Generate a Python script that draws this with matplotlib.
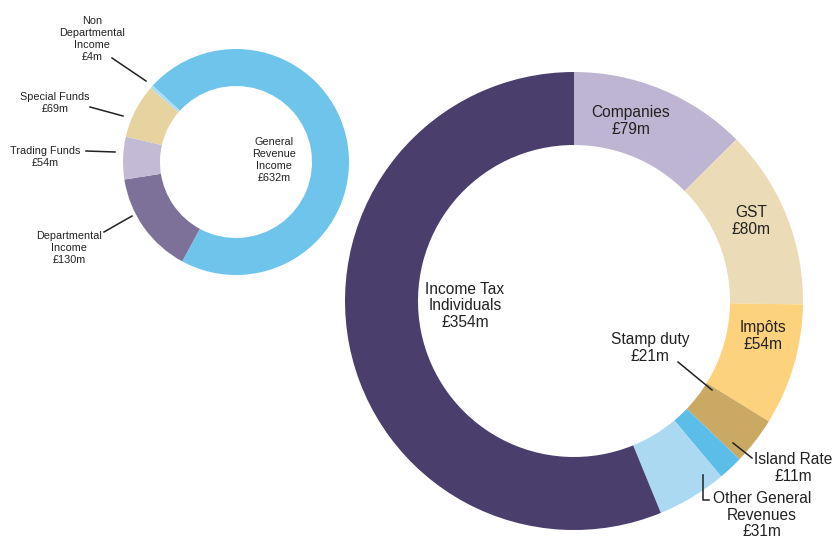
import matplotlib.pyplot as plt

plt.rcParams['font.family'] = ['Liberation Sans', 'DejaVu Sans']

# Overall income split (small ring)
income_labels = ['General Revenue Income', 'Departmental Income', 'Trading Funds',
                 'Special Funds', 'Non Departmental Income']
income_values = [632, 130, 54, 69, 4]
income_colors = ['#6fc4eb', '#7d7199', '#c3bbd5', '#e6d39f', '#a9dcf3']

# General revenue breakdown (large ring)
revenue_labels = ['Companies', 'GST', 'Impôts', 'Stamp duty', 'Island Rate',
                  'Other General Revenues', 'Income Tax Individuals']
revenue_values = [79, 80, 54, 21, 11, 31, 354]
revenue_colors = ['#bdb5d1', '#ebdbb6', '#fdd27c', '#c9a964', '#5cbde9',
                  '#aad9f1', '#4a3f6c']

W, H = 833, 550
fig = plt.figure(figsize=(W / 100, H / 100), dpi=100)
ax = fig.add_axes([0, 0, 1, 1])


def py(y):
    # pixel rows counted from the top
    return H - y


ax.pie(income_values, colors=income_colors, startangle=137.5, counterclock=False,
       center=(236, py(162)), radius=113,
       wedgeprops=dict(width=37, linewidth=0))
ax.pie(revenue_values, colors=revenue_colors, startangle=90, counterclock=False,
       center=(574, py(301)), radius=229,
       wedgeprops=dict(width=73, linewidth=0))

ax.set_xlim(0, W)
ax.set_ylim(0, H)
ax.set_aspect('equal')
ax.axis('off')

txt = '#222222'
small = dict(fontsize=7.8, color=txt, ha='center', va='center', linespacing=1.22)
big = dict(fontsize=11.2, color=txt, ha='center', va='center', linespacing=1.15)

# small ring labels
ax.text(92, py(39), 'Non\nDepartmental\nIncome\n£4m', **small)
ax.text(55, py(103), 'Special Funds\n£69m', **small)
ax.text(45, py(157), 'Trading Funds\n£54m', **small)
ax.text(69, py(248), 'Departmental\nIncome\n£130m', **small)
ax.text(274, py(160), 'General\nRevenue\nIncome\n£632m', **small)

leaders_small = [((112, 58), (146, 81)), ((90, 107), (123, 116)),
                 ((86, 151), (115, 152)), ((104, 232), (132, 216))]
for (x0, y0), (x1, y1) in leaders_small:
    ax.plot([x0, x1], [py(y0), py(y1)], color=txt, lw=1.1)

# large ring labels
ax.text(631, py(121), 'Companies\n£79m', **big)
ax.text(751, py(221), 'GST\n£80m', **big)
ax.text(763, py(336), 'Impôts\n£54m', **big)
ax.text(465, py(306), 'Income Tax\nIndividuals\n£354m', **big)
ax.text(650, py(348), 'Stamp duty\n£21m', **big)
ax.text(793, py(468), 'Island Rate\n£11m', **big)
ax.text(762, py(515), 'Other General\nRevenues\n£31m', **big)

ax.plot([678, 712], [py(362), py(390)], color=txt, lw=1.1)
ax.plot([733, 752], [py(443), py(458)], color=txt, lw=1.1)
ax.plot([703, 703, 709], [py(475), py(500), py(500)], color=txt, lw=1.1)

fig.savefig('out.png', dpi=100)
